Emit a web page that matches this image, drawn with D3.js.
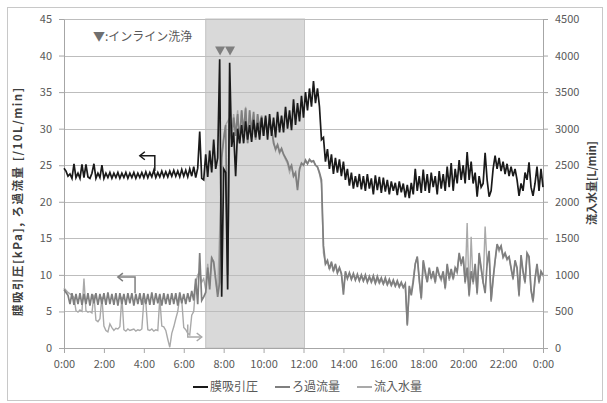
<!DOCTYPE html>
<html>
<head>
<meta charset="utf-8">
<script src="https://cdn.jsdelivr.net/npm/d3@7"></script>
<style>
  body { margin: 0; background: #fff; }
  text { font-family: "Noto Sans CJK JP", "Noto Sans", sans-serif; }
</style>
</head>
<body>
<svg id="chart" width="607" height="403"></svg>
<script>
// ===== data (one value every 0.1 h, 0:00 -> 24:00) =====
// 膜吸引圧 [kPa]
var pressure = [
  24.6, 24.2, 23.5, 23.8, 23.2, 25.2, 23.3, 23.9, 23.2, 25.1,
  23.3, 25.1, 23.4, 23.2, 23.9, 25.2, 23.2, 23.9, 23.3, 25.0,
  23.2, 23.9, 23.3, 24.0, 23.2, 23.9, 23.3, 24.0, 23.2, 23.9,
  23.3, 24.0, 23.2, 23.9, 23.3, 24.0, 23.2, 23.9, 23.3, 24.0,
  23.3, 24.1, 23.3, 24.0, 23.4, 24.3, 23.3, 24.0, 23.4, 24.2,
  23.4, 24.1, 23.4, 24.2, 23.5, 24.3, 23.5, 24.2, 23.4, 24.4,
  23.5, 24.3, 23.4, 24.5, 23.5, 24.8, 23.3, 24.6, 29.6, 23.2,
  23.0, 26.5, 23.4, 27.0, 24.0, 28.5, 24.5, 26.0, 39.5, 7.0,
  24.5, 24.0, 8.0, 39.0, 27.5, 29.5, 23.5, 30.0, 28.0, 30.5,
  28.0, 31.0, 28.5, 30.5, 28.2, 31.2, 28.8, 30.8, 28.5, 31.5,
  29.0, 31.8, 28.5, 32.0, 29.0, 31.5, 28.8, 32.3, 29.5, 31.8,
  29.5, 33.0, 30.0, 32.5, 29.8, 34.0, 30.5, 33.5, 31.0, 34.5,
  31.5, 35.0, 32.5, 35.5, 33.0, 36.5, 33.5, 35.5, 33.0, 28.5,
  28.8, 25.5, 27.2, 24.5, 26.5, 23.8, 26.0, 24.0, 25.8, 23.5,
  25.5, 23.0, 24.5, 22.2, 24.0, 21.8, 23.5, 22.0, 23.8, 21.7,
  23.5, 21.5, 23.8, 21.8, 23.2, 21.0, 23.6, 21.6, 23.4, 21.2,
  23.3, 21.4, 23.0, 21.0, 22.8, 21.5, 22.6, 20.9, 22.8, 21.3,
  22.5, 20.6, 22.3, 20.5, 22.6, 21.0, 24.5, 21.5, 23.5, 21.2,
  24.4, 21.5, 23.8, 21.2, 24.0, 22.0, 23.5, 21.0, 24.2, 21.8,
  23.8, 21.5, 24.8, 22.0, 25.3, 21.5, 24.5, 22.5, 25.7, 23.0,
  25.0, 22.5, 26.8, 23.0, 25.5, 22.5, 24.0, 20.7, 23.5, 22.0,
  22.5, 26.7, 23.0, 20.7, 21.5, 24.5, 26.3, 24.5, 26.0, 24.2,
  25.5, 23.8, 25.2, 23.5, 24.8, 23.5, 24.5, 23.0, 20.8, 22.5,
  21.5, 24.0, 23.0, 25.4, 22.0, 20.8, 22.5, 24.8, 21.5, 24.5,
  22.0
]
// ろ過流量 [/10L/min]
var filtration = [
  8.0, 7.6, 7.2, 6.0, 7.5, 5.9, 7.4, 6.0, 7.5, 5.9,
  7.4, 6.0, 7.5, 5.8, 7.4, 6.1, 7.5, 5.9, 7.4, 6.0,
  7.5, 5.9, 7.6, 6.0, 7.4, 5.9, 7.5, 5.8, 7.5, 6.0,
  7.4, 5.9, 7.5, 6.1, 7.5, 5.8, 7.4, 6.0, 7.5, 5.9,
  7.5, 6.0, 7.4, 5.9, 7.6, 5.9, 7.5, 6.1, 7.4, 5.8,
  7.5, 6.0, 7.4, 5.9, 7.5, 6.0, 7.5, 5.8, 7.6, 6.1,
  7.4, 6.0, 7.5, 6.3, 7.8, 6.5, 9.5, 6.0, 13.0, 6.5,
  7.0, 7.6, 11.0, 8.0, 12.3, 11.8, 9.5, 7.0, 9.0, 26.0,
  28.5, 30.5, 10.0, 31.0, 28.5, 31.5, 29.0, 32.0, 28.0, 32.5,
  29.5, 32.8, 28.0, 32.5, 29.5, 32.3, 28.5, 32.0, 30.0, 31.8,
  29.0, 31.5, 29.5, 31.0, 30.0, 28.0, 27.2, 27.8, 26.8, 27.3,
  26.5, 26.0, 25.5, 24.5, 25.0, 23.5, 24.0, 21.6, 24.5, 25.3,
  25.0, 25.7, 25.2, 25.8, 25.5, 25.6, 25.0, 24.8, 24.0, 23.0,
  14.0, 11.5, 12.0, 10.8, 11.8, 10.5, 11.5, 10.3, 11.0, 10.2,
  7.3, 10.5, 9.5, 10.3, 9.4, 10.2, 9.3, 10.1, 9.2, 10.0,
  9.2, 10.0, 9.0, 9.8, 9.1, 9.9, 8.9, 9.8, 9.0, 9.6,
  8.8, 9.6, 8.7, 9.4, 8.6, 9.3, 8.5, 9.2, 8.4, 9.0,
  8.3, 8.8, 3.2, 8.5, 7.2, 9.0, 11.5, 12.5, 9.5, 6.8,
  12.0, 10.5, 9.0, 11.0, 9.5, 10.5, 9.0, 11.1, 10.0, 9.5,
  10.5, 8.2, 11.5, 9.5, 10.8, 9.5, 11.0, 10.5, 13.0, 11.5,
  12.5, 9.0, 11.0, 7.2, 10.5, 9.0, 11.5, 7.5, 13.0, 11.0,
  9.0, 7.5, 11.5, 13.3, 6.5, 9.5, 12.0, 14.2, 13.5, 14.0,
  12.5, 13.0, 12.2, 12.5, 11.0, 9.5, 12.0, 11.0, 7.2, 12.7,
  10.5, 9.0, 13.0, 12.5, 8.0, 6.4, 9.5, 11.5, 9.0, 10.5,
  10.0
]
// 流入水量 [L/min] (right axis)
var inflow = [
  820, 790, 760, 740, 720, 690, 510, 490, 520, 500,
  950, 510, 490, 500, 480, 730, 380, 360, 400, 700,
  300, 240, 220, 330, 280, 240, 270, 260, 290, 700,
  250, 230, 260, 240, 250, 260, 230, 250, 240, 260,
  650, 620, 250, 240, 260, 230, 250, 240, 680, 300,
  290, 240, 120, 10, 200, 290, 400, 500, 700, 650,
  280, 250, 200, 180, 450, 500, 890, 1000, 1050, 900,
  950, 800, 1150, 850, 1250, 1150, 900, 750, 1600, 2600,
  2900, 3050, 3100, 3150, 2900, 3200, 2950, 3250, 2850, 3250,
  2950, 3300, 2800, 3250, 2950, 3200, 2850, 3200, 2950, 3150,
  2900, 3100, 2950, 3050, 2980, 2850, 2700, 2780, 2660, 2720,
  2640, 2580, 2520, 2400, 2480, 2350, 2380, 2200, 2430, 2520,
  2500, 2560, 2520, 2570, 2540, 2560, 2500, 2470, 2380, 2250,
  1300, 1150, 1180, 1080, 1160, 1050, 1130, 1020, 1090, 1000,
  800, 1020, 960, 1020, 940, 1000, 930, 990, 920, 980,
  910, 970, 900, 960, 890, 950, 880, 940, 880, 930,
  870, 920, 860, 910, 850, 900, 840, 890, 830, 880,
  820, 860, 300, 800, 750, 950, 1150, 1250, 900, 660,
  1180, 1000, 900, 1080, 950, 1030, 880, 1100, 980, 920,
  1020, 800, 1130, 920, 1050, 930, 1080, 1020, 1280, 1120,
  1250, 880, 1710, 700, 1520, 870, 1120, 730, 1280, 1080,
  880, 1660, 1130, 1300, 630, 920, 1180, 1400, 1320, 1380,
  1230, 1280, 1200, 1240, 1080, 930, 1190, 1080, 700, 1250,
  1030, 880, 1280, 1230, 780, 620, 930, 1130, 880, 1030,
  980
]

var xTicks = [0, 2, 4, 6, 8, 10, 12, 14, 16, 18, 20, 22, 24]
var leftTicks = [0, 5, 10, 15, 20, 25, 30, 35, 40, 45]
var rightTicks = [0, 500, 1000, 1500, 2000, 2500, 3000, 3500, 4000, 4500]
var shadedHours = [7.1, 12.05]
var washHours = [7.82, 8.32]   // インライン洗浄
var seriesNames = ["膜吸引圧", "ろ過流量", "流入水量"]
var seriesColors = ["#1a1a1a", "#7f7f7f", "#a9a9a9"]

// arrows telling which axis a series belongs to: [hour, value]
var arrowPressure = [[4.55, 24.2], [4.55, 26.3], [3.8, 26.3]]
var arrowFiltration = [[3.56, 7.5], [3.56, 9.7], [2.7, 9.7]]
var arrowInflow = [[6.2, 320], [6.2, 150], [6.9, 150]]

//===================== Chart ====================
var svg = d3.select("#chart")
var margin = {left: 64, right: 543, top: 19, bottom: 348}
var labelColor = "#595959"

var x = d3.scaleLinear().domain([0, 24]).range([margin.left, margin.right])
var yL = d3.scaleLinear().domain([0, 45]).range([margin.bottom, margin.top])
var yR = d3.scaleLinear().domain([0, 4500]).range([margin.bottom, margin.top])
var hourOf = function(d, i) { return i / 10 }

// outer frame
svg.append("rect")
    .attr("x", 7.5).attr("y", 7.5)
    .attr("width", 595).attr("height", 393)
    .attr("fill", "#fff").attr("stroke", "#c8c8c8")

// shaded period
svg.append("rect")
    .attr("x", x(shadedHours[0]))
    .attr("y", margin.top)
    .attr("width", x(shadedHours[1]) - x(shadedHours[0]))
    .attr("height", margin.bottom - margin.top)
    .attr("fill", "#d9d9d9")
    .attr("stroke", "#c4c4c4")

// gridlines
svg.append("g").selectAll("line")
    .data(leftTicks.slice(1))
    .enter().append("line")
    .attr("x1", margin.left).attr("x2", margin.right)
    .attr("y1", d => Math.round(yL(d)) + 0.5).attr("y2", d => Math.round(yL(d)) + 0.5)
    .attr("stroke", "#bdbdbd")

// axes
function styleAxis(g) {
    g.selectAll(".domain").attr("stroke", "#a6a6a6")
    g.selectAll(".tick line").attr("stroke", "#a6a6a6")
    g.selectAll(".tick text").attr("fill", labelColor).style("font-size", "11px")
}
svg.append("g")
    .attr("transform", "translate(" + margin.left + ",0)")
    .call(d3.axisLeft(yL).tickValues(leftTicks).tickSize(5).tickSizeOuter(0).tickPadding(7))
    .call(styleAxis)
svg.append("g")
    .attr("transform", "translate(" + margin.right + ",0)")
    .call(d3.axisRight(yR).tickValues(rightTicks).tickSize(5).tickSizeOuter(0).tickPadding(7)
        .tickFormat(d3.format("d")))
    .call(styleAxis)
svg.append("g")
    .attr("transform", "translate(0," + margin.bottom + ")")
    .call(d3.axisBottom(x).tickValues(xTicks).tickSize(5).tickSizeOuter(0).tickPadding(7)
        .tickFormat(d => (d % 24) + ":00"))
    .call(styleAxis)

// series
var lineL = d3.line().x((d, i) => x(hourOf(d, i))).y(d => yL(d))
var lineR = d3.line().x((d, i) => x(hourOf(d, i))).y(d => yR(d))

svg.append("path").datum(inflow)
    .attr("d", lineR).attr("fill", "none")
    .attr("stroke", seriesColors[2]).attr("stroke-width", 1.4)
svg.append("path").datum(filtration)
    .attr("d", lineL).attr("fill", "none")
    .attr("stroke", seriesColors[1]).attr("stroke-width", 1.7)
svg.append("path").datum(pressure)
    .attr("d", lineL).attr("fill", "none")
    .attr("stroke", seriesColors[0]).attr("stroke-width", 1.7)

// wash markers
svg.append("g").selectAll("path")
    .data(washHours)
    .enter().append("path")
    .attr("d", function(d) {
        var cx = x(d), top = yL(40) - 9
        return "M" + (cx - 5) + "," + top + "L" + (cx + 5) + "," + top + "L" + cx + "," + (top + 9) + "Z"
    })
    .attr("fill", "#7f7f7f")

// axis arrows
function drawArrow(points, yScale, color) {
    var pts = points.map(p => [x(p[0]), yScale(p[1])])
    svg.append("path")
        .attr("d", d3.line()(pts))
        .attr("fill", "none").attr("stroke", color).attr("stroke-width", 1.5)
    var end = pts[pts.length - 1], prev = pts[pts.length - 2]
    var dir = end[0] < prev[0] ? 1 : -1
    svg.append("path")
        .attr("d", d3.line()([[end[0] + dir * 5, end[1] - 4], end, [end[0] + dir * 5, end[1] + 4]]))
        .attr("fill", "none").attr("stroke", color).attr("stroke-width", 1.5)
}
drawArrow(arrowPressure, yL, seriesColors[0])
drawArrow(arrowFiltration, yL, seriesColors[1])
drawArrow(arrowInflow, yR, seriesColors[2])

// annotation
var note = svg.append("text")
    .attr("x", 93).attr("y", 41)
    .style("font-size", "12px")
note.append("tspan").attr("fill", "#6f6f6f").text("▼")
note.append("tspan").attr("fill", labelColor).text(":インライン洗浄")

// axis titles
svg.append("text")
    .attr("transform", "translate(22,202) rotate(-90)")
    .attr("text-anchor", "middle")
    .attr("fill", "#404040")
    .attr("textLength", 228).attr("lengthAdjust", "spacing")
    .style("font-size", "11.5px").style("font-weight", "bold")
    .text("膜吸引圧[kPa], ろ過流量 [/10L/min]")
svg.append("text")
    .attr("transform", "translate(596,183) rotate(-90)")
    .attr("text-anchor", "middle")
    .attr("fill", "#404040")
    .style("font-size", "11px").style("font-weight", "bold")
    .text("流入水量[L/min]")

// legend
var legendX = [193, 275, 357]
var legend = svg.append("g").selectAll("g")
    .data(seriesNames)
    .enter().append("g")
    .attr("transform", (d, i) => "translate(" + legendX[i] + ",387)")
legend.append("line")
    .attr("x1", 0).attr("x2", 15)
    .attr("stroke", (d, i) => seriesColors[i]).attr("stroke-width", 2)
legend.append("text")
    .attr("x", 17).attr("y", 4)
    .attr("fill", labelColor)
    .style("font-size", "12px")
    .text(d => d)
</script>
</body>
</html>
